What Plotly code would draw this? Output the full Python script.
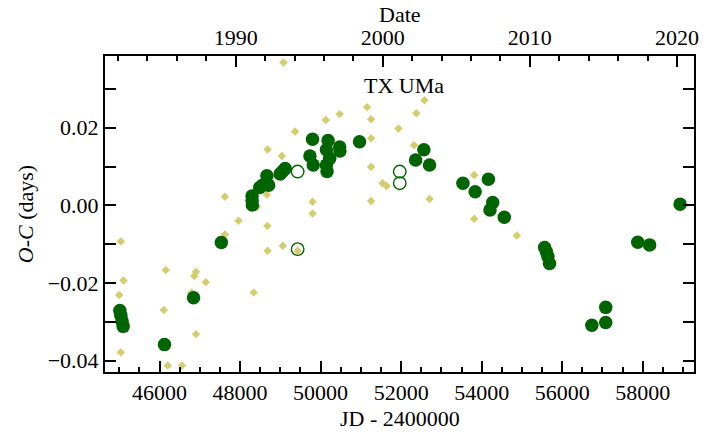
import plotly.graph_objects as go

# O-C residuals of TX UMa minima (JD - 2400000, days)
# photoelectric / CCD timings (filled)
jd_ccd = [45015, 45040, 45070, 45097, 46123, 46845, 47535,
          48298, 48300, 48305, 48487, 48560, 48667, 48709, 48997, 49060, 49120,
          49735, 49800, 49817, 50144, 50144, 50160, 50186, 50227, 50474, 50480,
          50967, 52360, 52565, 52705, 53535, 53838, 54167, 54274, 54207, 54562,
          55562, 55610, 55645, 55685, 56736, 57081, 57081, 57876, 58171, 58928]
oc_ccd = [-0.0271, -0.0284, -0.0298, -0.0312, -0.0359, -0.0238, -0.0096,
          0.0024, 0.0012, 0.0001, 0.0046, 0.0052, 0.0076, 0.0052, 0.0081, 0.0088, 0.0095,
          0.0127, 0.0170, 0.0104, 0.0143, 0.0104, 0.0087, 0.0167, 0.0121, 0.0150, 0.0140,
          0.0164, 0.0117, 0.0143, 0.0104, 0.0057, 0.0035, 0.0067, 0.0007, -0.0012, -0.0031,
          -0.0109, -0.0120, -0.0132, -0.0150, -0.0309, -0.0302, -0.0263, -0.0095, -0.0102, 0.0003]

# less certain timings (open)
jd_open = [49430, 49430, 51966, 51966]
oc_open = [0.0087, -0.0113, 0.0087, 0.0057]

# visual timings (diamonds)
jd_vis = [45040, 45106, 44998, 45040, 46155, 46106, 46205, 46559, 46904, 46862,
          46904, 47150, 46795, 47625, 47625, 47962, 48339, 48420, 48667, 48684,
          48677, 48684, 49036, 49061, 49078, 49366, 49430, 49800, 49800, 50129,
          50474, 51154, 51253, 51253, 51253, 51253, 51540, 51639, 51934, 52321,
          52377, 52581, 52705, 53814, 53814, 54872]
oc_vis = [-0.0093, -0.0194, -0.0231, -0.0379, -0.0167, -0.0270, -0.0413, -0.0413, -0.0171, -0.0182,
          -0.0332, -0.0198, -0.0225, 0.0022, -0.0075, -0.0040, -0.0225, -0.0004, 0.0027, 0.0144,
          -0.0053, -0.0117, 0.0127, -0.0104, 0.0368, 0.0190, -0.0117, 0.0009, -0.0021, 0.0220,
          0.0235, 0.0253, 0.0222, 0.0173, 0.0099, 0.0011, 0.0057, 0.0050, 0.0198, 0.0155,
          0.0237, 0.0271, 0.0016, 0.0078, -0.0035, -0.0078]

x_range = [44646, 59273]
y_range = [-0.04296, 0.03848]
year_ticks = [1990, 2000, 2010, 2020]


def jd_to_year(jd):
    return 2000.0 + (jd + 2400000 - 2451544.5) / 365.25


FONT = "Liberation Serif"
GREEN = "#006400"
KHAKI = "#d3cd6e"

fig = go.Figure()
fig.add_trace(go.Scatter(x=jd_vis, y=oc_vis, mode="markers",
                         marker=dict(symbol="diamond", size=6.5, color=KHAKI),
                         showlegend=False))
fig.add_trace(go.Scatter(x=jd_ccd, y=oc_ccd, mode="markers",
                         marker=dict(symbol="circle", size=13.5, color=GREEN),
                         showlegend=False))
fig.add_trace(go.Scatter(x=jd_open, y=oc_open, mode="markers",
                         marker=dict(symbol="circle-open", size=12.5, color=GREEN,
                                     line=dict(width=1.4, color=GREEN)),
                         showlegend=False))
# invisible trace carrying the calendar-date axis
fig.add_trace(go.Scatter(x=[jd_to_year(v) for v in x_range], y=[0, 0], mode="markers",
                         marker=dict(opacity=0), xaxis="x2", hoverinfo="skip",
                         showlegend=False))

axis_common = dict(showline=True, linecolor="black", linewidth=2, ticks="inside",
                   tickcolor="black", tickwidth=1.5, showgrid=False, zeroline=False,
                   tickfont=dict(family=FONT, size=22, color="black"))

fig.update_layout(
    width=707, height=432,
    margin=dict(l=105, r=8, t=56, b=60),
    paper_bgcolor="white", plot_bgcolor="white",
    font=dict(family=FONT, size=22, color="black"),
    xaxis=dict(range=x_range, dtick=2000, tick0=46000, ticklen=11, mirror=True,
               tickformat="d",
               minor=dict(dtick=500, ticklen=5, ticks="inside", tickcolor="black", tickwidth=1.5),
               **axis_common),
    xaxis2=dict(range=[jd_to_year(v) for v in x_range], overlaying="x", side="top",
                tickvals=year_ticks, ticklen=11,
                minor=dict(dtick=2, tick0=1980, ticklen=5, ticks="inside", tickcolor="black", tickwidth=1.5),
                **axis_common),
    yaxis=dict(range=y_range, dtick=0.02, tick0=0, ticklen=11, mirror="ticks",
               tickformat=".2f",
               minor=dict(dtick=0.01, ticklen=11, ticks="inside", tickcolor="black", tickwidth=1.5),
               title=dict(text="<i>O-C</i> (days)", font=dict(family=FONT, size=22), standoff=8),
               **axis_common),
    annotations=[
        dict(x=52075, y=0.0310, xref="x", yref="y", text="TX UMa",
             showarrow=False, font=dict(family=FONT, size=22, color="black")),
        dict(x=0.5, y=1.132, xref="paper", yref="paper", text="Date",
             yanchor="middle", showarrow=False, font=dict(family=FONT, size=22, color="black")),
        dict(x=0.5, y=-0.148, xref="paper", yref="paper", text="JD - 2400000",
             yanchor="middle", showarrow=False, font=dict(family=FONT, size=22, color="black")),
    ],
)

fig.write_html("out.html")
